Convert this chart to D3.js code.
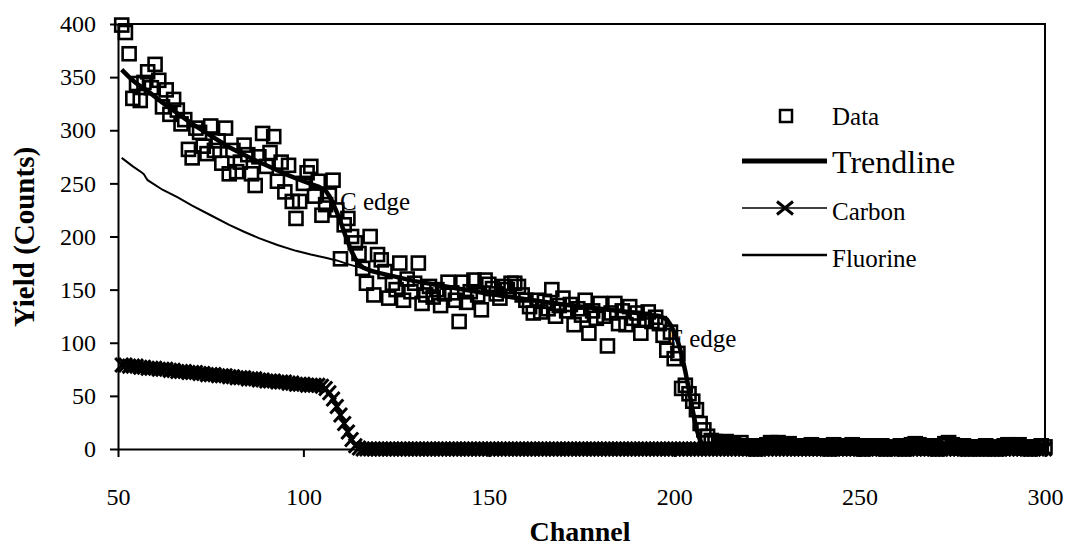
<!DOCTYPE html>
<html>
<head>
<meta charset="utf-8">
<script src="https://cdn.jsdelivr.net/npm/d3@7"></script>
<style>
  body { margin: 0; background: #fff; }
  svg { display: block; }
  text { font-family: "Liberation Serif", "Times New Roman", serif; fill: #000; }
</style>
</head>
<body>
<div id="chart"></div>
<script>
// channels 51..300, one value per channel
const firstChannel = 51;

const dataCounts = [
  399, 392, 372, 330, 344, 328, 345, 355, 340, 362,
  347, 322, 338, 315, 329, 319, 306, 310, 282, 274,
  302, 298, 285, 278, 304, 281, 290, 269, 302, 259,
  281, 261, 270, 286, 277, 259, 248, 275, 297, 266,
  279, 294, 252, 270, 242, 267, 233, 217, 233, 250,
  260, 266, 238, 252, 220, 230, 239, 253, 225, 179,
  211, 217, 200, 194, 184, 170, 156, 200, 145, 183,
  178, 167, 142, 156, 150, 175, 140, 160, 148, 156,
  175, 137, 145, 153, 143, 150, 135, 146, 157, 147,
  140, 120, 157, 138, 148, 159, 145, 131, 159, 155,
  151, 146, 142, 153, 150, 156, 156, 153, 145, 140,
  134, 128, 140, 129, 139, 132, 150, 125, 135, 142,
  130, 136, 117, 132, 126, 140, 109, 130, 123, 137,
  125, 97, 128, 137, 118, 130, 117, 134, 123, 128,
  109, 122, 129, 120, 124, 118, 107, 93, 110, 85,
  90, 57, 60, 52, 45, 37, 24, 18, 12, 8,
  7, 6, 4, 7, 3, 5, 2, 6, 3, 1,
  2, 0, 3, 2, 4, 6, 5, 6, 3, 4,
  5, 2, 3, 1, 2, 3, 4, 2, 1, 3,
  2, 0, 4, 2, 1, 3, 2, 4, 1, 2,
  0, 3, 2, 1, 2, 3, 0, 1, 2, 1,
  3, 0, 2, 4, 5, 4, 2, 1, 3, 2,
  0, 3, 5, 6, 4, 2, 1, 3, 0, 2,
  1, 2, 0, 3, 1, 2, 0, 1, 3, 4,
  2, 3, 4, 1, 2, 0, 1, 2, 3, 2
];

const carbonCounts = [
  79, 79, 78, 78, 78, 77, 77, 76, 76, 76,
  75, 75, 75, 74, 74, 73, 73, 73, 72, 72,
  72, 71, 71, 70, 70, 70, 69, 69, 69, 68,
  68, 67, 67, 67, 66, 66, 66, 65, 65, 64,
  64, 64, 63, 63, 63, 62, 62, 61, 61, 61,
  60, 60, 60, 60, 59, 57, 53, 47, 40, 32,
  24, 16, 9, 3, 1, 0, 0, 0, 0, 0,
  0, 0, 0, 0, 0, 0, 0, 0, 0, 0, 0, 0, 0, 0, 0, 0, 0, 0, 0, 0,
  0, 0, 0, 0, 0, 0, 0, 0, 0, 0, 0, 0, 0, 0, 0, 0, 0, 0, 0, 0,
  0, 0, 0, 0, 0, 0, 0, 0, 0, 0, 0, 0, 0, 0, 0, 0, 0, 0, 0, 0,
  0, 0, 0, 0, 0, 0, 0, 0, 0, 0, 0, 0, 0, 0, 0, 0, 0, 0, 0, 0,
  0, 0, 0, 0, 0, 0, 0, 0, 0, 0, 0, 0, 0, 0, 0, 0, 0, 0, 0, 0,
  0, 0, 0, 0, 0, 0, 0, 0, 0, 0, 0, 0, 0, 0, 0, 0, 0, 0, 0, 0,
  0, 0, 0, 0, 0, 0, 0, 0, 0, 0, 0, 0, 0, 0, 0, 0, 0, 0, 0, 0,
  0, 0, 0, 0, 0, 0, 0, 0, 0, 0, 0, 0, 0, 0, 0, 0, 0, 0, 0, 0,
  0, 0, 0, 0, 0, 0, 0, 0, 0, 0, 0, 0, 0, 0, 0, 0, 0, 0, 0, 0
];

const trendChannels = [51, 53, 55, 58, 62, 66, 70, 75, 80, 85, 90, 95, 100, 104, 106, 107, 108, 109, 110,
  111, 112, 113, 114, 115, 116, 118, 120, 125, 130, 140, 150, 160, 170, 180, 190, 196, 198, 199,
  200, 201, 202, 203, 204, 205, 206, 207, 208, 209, 300];
const trendCounts = [357, 350, 344, 337, 326, 316, 306, 295, 284, 275, 267, 259, 252, 247, 243, 238, 231, 223, 214,
  204, 195, 186, 179, 174, 171, 168, 166, 162, 158, 152, 146, 141, 136, 132, 128, 125, 122, 117,
  110, 101, 89, 73, 55, 36, 19, 8, 2, 0, 0];

const fluorineChannels = [51, 54, 56.5, 57, 57.5, 58, 62, 66, 70, 75, 80, 84, 88, 93, 98, 102, 106, 109, 112, 116,
  120, 125, 130, 140, 150, 160, 170, 180, 190, 196, 198, 199, 200, 201, 202, 203, 204, 205, 206, 207, 208, 209, 300];
const fluorineCounts = [274, 266, 260, 258.5, 255.5, 253, 244, 237, 229, 220, 211, 204.5, 198.5, 192, 186.5, 183, 180, 177.5, 174, 170,
  166, 162, 158, 152, 146, 141, 136, 132, 128, 125, 122, 117, 110, 101, 89, 73, 55, 36, 19, 8, 2, 0, 0];

const xTicks = [50, 100, 150, 200, 250, 300];
const yTicks = [0, 50, 100, 150, 200, 250, 300, 350, 400];

const width = 1066, height = 554;
const svg = d3.select('#chart').append('svg')
    .attr('width', width)
    .attr('height', height);

const x = d3.scaleLinear().domain([50, 300]).range([118, 1045]);
const y = d3.scaleLinear().domain([0, 400]).range([449, 24]);

const points = (values) => values.map((v, i) => ({ ch: firstChannel + i, v: v }));
const pairs = (chs, vals) => chs.map((c, i) => ({ ch: c, v: vals[i] }));

// axes
const yAxis = svg.append('g')
    .attr('transform', `translate(${x(50)},0)`)
    .call(d3.axisLeft(y).tickValues(yTicks).tickSize(8).tickSizeOuter(0).tickPadding(14));
const xAxis = svg.append('g')
    .attr('transform', `translate(0,${y(0)})`)
    .call(d3.axisBottom(x).tickValues(xTicks).tickSize(8).tickSizeOuter(0).tickPadding(31));
[xAxis, yAxis].forEach(ax => {
  ax.selectAll('path, line').attr('stroke', '#000').attr('stroke-width', 2);
  ax.selectAll('text').style('font-size', '24px').attr('fill', '#000');
});

// frame top/right
svg.append('path')
    .attr('d', `M${x(50)},${y(400)}H${x(300)}V${y(0)}`)
    .attr('fill', 'none')
    .attr('stroke', '#000')
    .attr('stroke-width', 2);

// axis titles
svg.append('text')
    .text('Yield (Counts)')
    .attr('transform', 'translate(34,237) rotate(-90)')
    .attr('text-anchor', 'middle')
    .style('font-size', '29px')
    .style('font-weight', 'bold');
svg.append('text')
    .text('Channel')
    .attr('x', 580)
    .attr('y', 541)
    .attr('text-anchor', 'middle')
    .style('font-size', '28px')
    .style('font-weight', 'bold');

// edge labels (under the marks)
svg.append('text').text('C edge')
    .attr('x', x(109.9)).attr('y', y(225))
    .style('font-size', '25px');
svg.append('text').text('F edge')
    .attr('x', x(198.6)).attr('y', y(96))
    .style('font-size', '25px');

const line = d3.line().x(d => x(d.ch)).y(d => y(d.v));

// fluorine
svg.append('path')
    .attr('d', line(pairs(fluorineChannels, fluorineCounts)))
    .attr('fill', 'none')
    .attr('stroke', '#000')
    .attr('stroke-width', 2);

// carbon
const carbon = points(carbonCounts);
svg.append('path')
    .attr('d', line(carbon))
    .attr('fill', 'none')
    .attr('stroke', '#000')
    .attr('stroke-width', 2);
const xMark = 'M-6.5,-7L6.5,7M-6.5,7L6.5,-7';
svg.append('g').selectAll('path')
    .data(carbon)
    .enter()
    .append('path')
    .attr('d', xMark)
    .attr('transform', d => `translate(${x(d.ch)},${y(d.v)})`)
    .attr('fill', 'none')
    .attr('stroke', '#000')
    .attr('stroke-width', 3);

// trendline
svg.append('path')
    .attr('d', line(pairs(trendChannels, trendCounts)))
    .attr('fill', 'none')
    .attr('stroke', '#000')
    .attr('stroke-width', 4.5)
    .attr('stroke-linejoin', 'round');

// data squares
const sq = 13;
svg.append('g').selectAll('rect')
    .data(points(dataCounts))
    .enter()
    .append('rect')
    .attr('x', d => x(d.ch) - sq / 2)
    .attr('y', d => y(d.v) - sq / 2)
    .attr('width', sq)
    .attr('height', sq)
    .attr('fill', 'none')
    .attr('stroke', '#000')
    .attr('stroke-width', 2.6);

// legend
const legend = svg.append('g');
legend.append('rect')
    .attr('x', 780).attr('y', 110).attr('width', 12).attr('height', 12)
    .attr('fill', 'none').attr('stroke', '#000').attr('stroke-width', 2.5);
legend.append('text').text('Data').attr('x', 832).attr('y', 125).style('font-size', '25px');

legend.append('line').attr('x1', 742).attr('x2', 827).attr('y1', 161).attr('y2', 161)
    .attr('stroke', '#000').attr('stroke-width', 5);
legend.append('text').text('Trendline').attr('x', 832).attr('y', 173).style('font-size', '32px');

legend.append('line').attr('x1', 742).attr('x2', 827).attr('y1', 208).attr('y2', 208)
    .attr('stroke', '#000').attr('stroke-width', 1.5);
legend.append('path').attr('d', 'M-8,-6.5L8,6.5M-8,6.5L8,-6.5')
    .attr('transform', 'translate(785,208)')
    .attr('fill', 'none').attr('stroke', '#000').attr('stroke-width', 3);
legend.append('text').text('Carbon').attr('x', 832).attr('y', 220).style('font-size', '25px');

legend.append('line').attr('x1', 742).attr('x2', 827).attr('y1', 255).attr('y2', 255)
    .attr('stroke', '#000').attr('stroke-width', 2.5);
legend.append('text').text('Fluorine').attr('x', 832).attr('y', 267).style('font-size', '25px');
</script>
</body>
</html>
